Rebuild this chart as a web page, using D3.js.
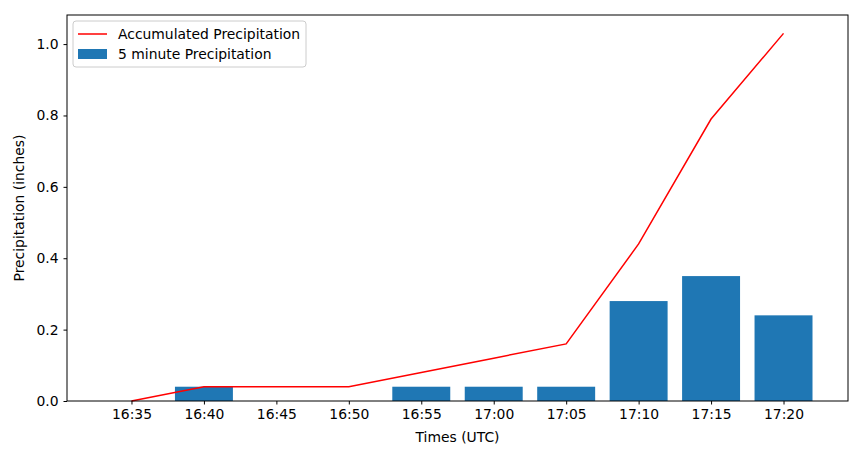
<!DOCTYPE html>
<html>
<head>
<meta charset="utf-8">
<script src="https://cdn.jsdelivr.net/npm/d3@7"></script>
<style>
body { margin:0; background:#fff; }
text { font-family: "DejaVu Sans", sans-serif; }
</style>
</head>
<body>
<div id="chart"></div>
<script>
// times at 5 minute steps
var times = ["16:35","16:40","16:45","16:50","16:55","17:00","17:05","17:10","17:15","17:20"]
var fiveMin = [0, 0.04, 0, 0, 0.04, 0.04, 0.04, 0.28, 0.35, 0.24]
var accum = [0, 0.04, 0.04, 0.04, 0.08, 0.12, 0.16, 0.44, 0.79, 1.03]
var yTicks = [0, 0.2, 0.4, 0.6, 0.8, 1.0]

var W = 863, H = 459
var fs = 13.9
var margin = {top: 15, right: 15, bottom: 58, left: 67}
var width = W - margin.left - margin.right,
    height = H - margin.top - margin.bottom

var svg = d3.select("#chart").append("svg")
    .attr("width", W)
    .attr("height", H)
  .append("g")
    .attr("transform", "translate(" + margin.left + "," + margin.top + ")")

var x = d3.scaleLinear().domain([-0.89, 9.89]).range([0, width])
var y = d3.scaleLinear().domain([0, 1.0815]).range([height, 0])

// bars
svg.append("g").selectAll("rect")
    .data(fiveMin)
  .enter().append("rect")
    .attr("x", function(d, i) { return x(i - 0.4) })
    .attr("width", x(0.8) - x(0))
    .attr("y", function(d) { return y(d) })
    .attr("height", function(d) { return y(0) - y(d) })
    .attr("fill", "#1f77b4")

// accumulated line
var line = d3.line()
    .x(function(d, i) { return x(i) })
    .y(function(d) { return y(d) })
svg.append("path")
    .datum(accum)
    .attr("d", line)
    .attr("fill", "none")
    .attr("stroke", "red")
    .attr("stroke-width", 1.5)

// axes
var xAxis = svg.append("g")
    .attr("transform", "translate(0," + height + ")")
    .call(d3.axisBottom(x).tickValues(d3.range(times.length)).tickFormat(function(d) { return times[d] }).tickSize(3.5).tickPadding(5).tickSizeOuter(0))
var yAxis = svg.append("g")
    .call(d3.axisLeft(y).tickValues(yTicks).tickFormat(d3.format(".1f")).tickSize(3.5).tickPadding(5).tickSizeOuter(0))
svg.selectAll(".tick text").attr("font-size", fs).attr("fill", "#000").style("font-family", "DejaVu Sans")
svg.selectAll(".tick line").attr("stroke", "#000")
svg.selectAll(".domain").remove()

// frame
svg.append("rect")
    .attr("width", width).attr("height", height)
    .attr("fill", "none").attr("stroke", "#000").attr("stroke-width", 1)

svg.append("text")
    .attr("x", width / 2).attr("y", height + 41)
    .attr("text-anchor", "middle").attr("font-size", fs)
    .text("Times (UTC)")
svg.append("text")
    .attr("transform", "rotate(-90)")
    .attr("x", -height / 2).attr("y", -43)
    .attr("text-anchor", "middle").attr("font-size", fs)
    .text("Precipitation (inches)")

// legend
var legend = svg.append("g").attr("transform", "translate(6,6)")
legend.append("rect")
    .attr("width", 233).attr("height", 46).attr("rx", 3)
    .attr("fill", "#fff").attr("fill-opacity", 0.8)
    .attr("stroke", "#ccc")
legend.append("line")
    .attr("x1", 5).attr("x2", 34).attr("y1", 13).attr("y2", 13)
    .attr("stroke", "red").attr("stroke-width", 1.5)
legend.append("rect")
    .attr("x", 5).attr("y", 28).attr("width", 29).attr("height", 10)
    .attr("fill", "#1f77b4")
legend.append("text").attr("x", 45).attr("y", 18).attr("font-size", fs).text("Accumulated Precipitation")
legend.append("text").attr("x", 45).attr("y", 38).attr("font-size", fs).text("5 minute Precipitation")
</script>
</body>
</html>
